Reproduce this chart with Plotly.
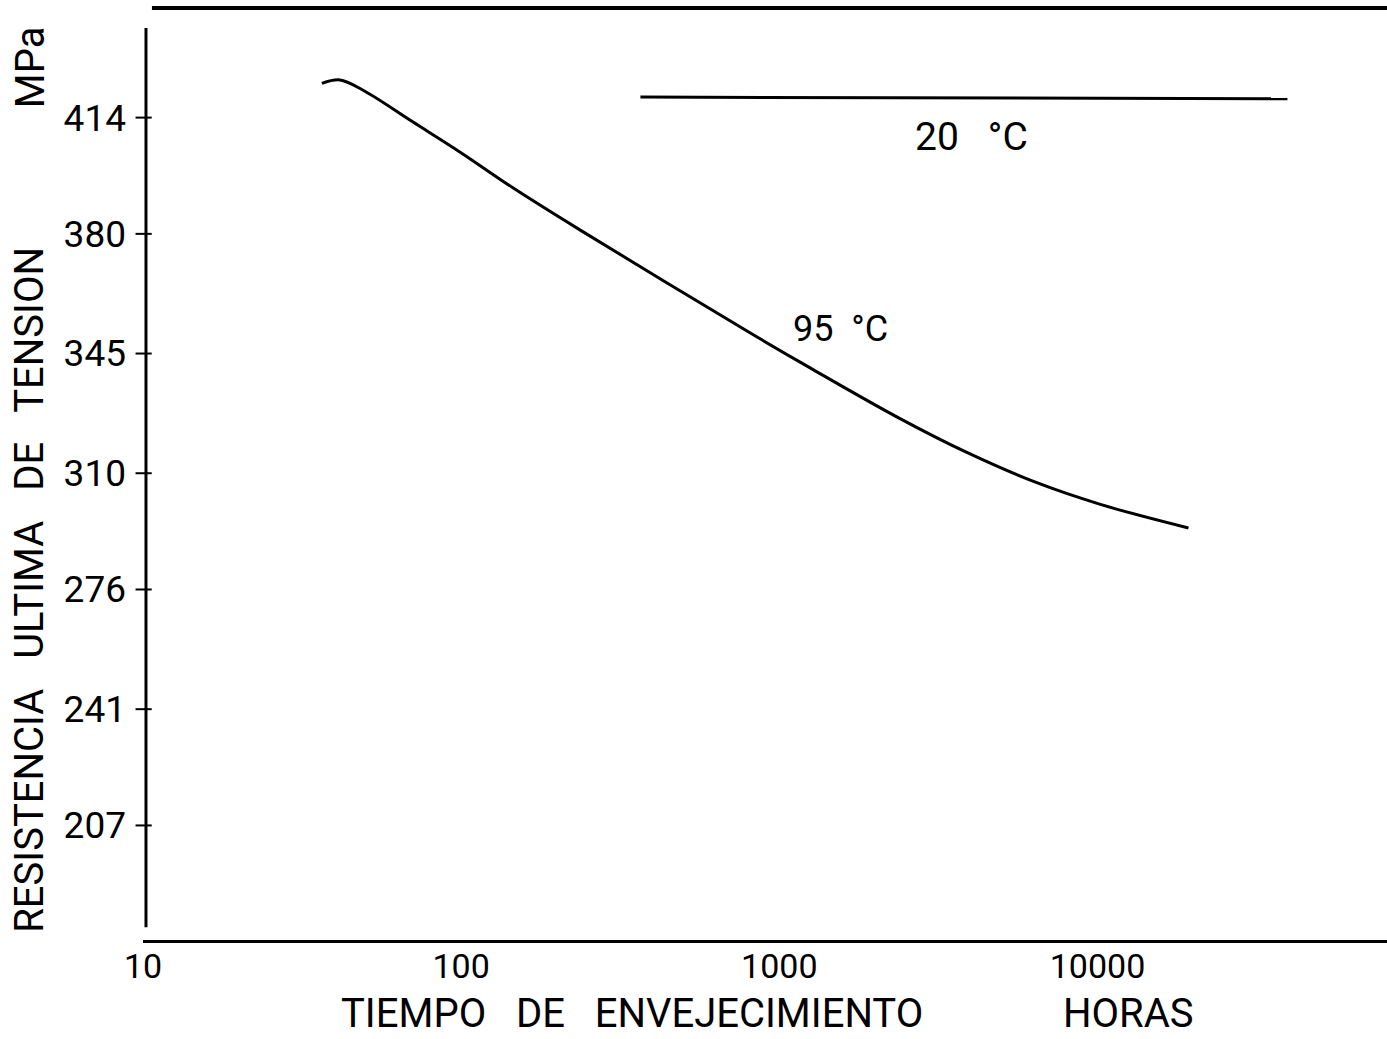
import plotly.graph_objects as go

# ---- data ----
hours_95 = [36.5, 41.6, 49.2, 70.6, 99.3, 145.8, 236.8, 811, 1250, 2404, 3900, 6295, 10210, 19320]
mpa_95 = [424.0, 425.0, 422.0, 412.7, 403.9, 393.4, 381.1, 351.0, 340.8, 325.9, 316.0, 307.6, 300.9, 294.0]

hours_20 = [366, 39540]
mpa_20 = [420.0, 419.5]

y_tick_vals = [207, 241, 276, 310, 345, 380, 414]
y_tick_text = ["207", "241", "276", "310", "345", "380", "414"]
x_tick_vals = [10, 100, 1000, 10000]
x_tick_text = ["10", "100", "1000", "10000"]

label_95 = "95  °C"
label_20 = "20   °C"
x_title_a = "TIEMPO   DE   ENVEJECIMIENTO"
x_title_b = "HORAS"
y_title = "RESISTENCIA   ULTIMA   DE   TENSION"
y_unit = "MPa"

FONT = "Roboto"
BLACK = "#000000"

fig = go.Figure()
fig.add_trace(go.Scatter(x=hours_95, y=mpa_95, mode="lines",
                         line=dict(color=BLACK, width=3, shape="spline", smoothing=1.0),
                         showlegend=False, hoverinfo="skip"))
fig.add_trace(go.Scatter(x=hours_20, y=mpa_20, mode="lines",
                         line=dict(color=BLACK, width=3),
                         showlegend=False, hoverinfo="skip"))

fig.update_layout(
    width=1387, height=1039,
    margin=dict(l=143, r=0, t=28, b=99),
    paper_bgcolor="white", plot_bgcolor="white",
    font=dict(family=FONT, color=BLACK),
    showlegend=False,
    xaxis=dict(type="log", range=[1.0, 4.91], showgrid=False, zeroline=False,
               showline=True, linecolor=BLACK, linewidth=3,
               tickvals=x_tick_vals, ticktext=x_tick_text, ticks="",
               ticklabelstandoff=-6,
               tickfont=dict(size=34, family=FONT, color=BLACK)),
    yaxis=dict(range=[173.5, 440.2], showgrid=False, zeroline=False,
               showline=False,
               tickvals=y_tick_vals, ticktext=y_tick_text, ticks="",
               ticklabelstandoff=16,
               tickfont=dict(size=37, family=FONT, color=BLACK)),
)

shapes = []
# vertical axis line (stops slightly above the horizontal axis)
shapes.append(dict(type="line", xref="paper", yref="paper", x0=0.0024, x1=0.0024,
                   y0=0.014, y1=1.0, line=dict(color=BLACK, width=3)))
# crossing tick marks
for v in y_tick_vals:
    shapes.append(dict(type="line", xref="paper", yref="y", x0=-0.006, x1=0.007,
                       y0=v, y1=v, line=dict(color=BLACK, width=2)))
# top border line
shapes.append(dict(type="line", xref="paper", yref="paper", x0=0.0072, x1=1.0,
                   y0=1.022, y1=1.022, line=dict(color=BLACK, width=4)))
fig.update_layout(shapes=shapes)

common = dict(showarrow=False, xanchor="center", yanchor="middle")
ann = [
    dict(x=3.192, y=352.2, xref="x", yref="y", text=label_95,
         font=dict(size=36, family=FONT, color=BLACK), **common),
    dict(x=3.604, y=408.3, xref="x", yref="y", text=label_20,
         font=dict(size=39, family=FONT, color=BLACK), **common),
    dict(x=0.393, y=-0.081, xref="paper", yref="paper", text=x_title_a,
         font=dict(size=40, family=FONT, color=BLACK), **common),
    dict(x=0.7926, y=-0.081, xref="paper", yref="paper", text=x_title_b,
         font=dict(size=40, family=FONT, color=BLACK), **common),
    dict(x=-0.0908, y=0.384, xref="paper", yref="paper", text=y_title,
         textangle=-90, font=dict(size=40, family=FONT, color=BLACK), **common),
    dict(x=-0.0908, y=0.957, xref="paper", yref="paper", text=y_unit,
         textangle=-90, font=dict(size=40, family=FONT, color=BLACK), **common),
]
fig.update_layout(annotations=ann)

fig.write_html("out.html")
